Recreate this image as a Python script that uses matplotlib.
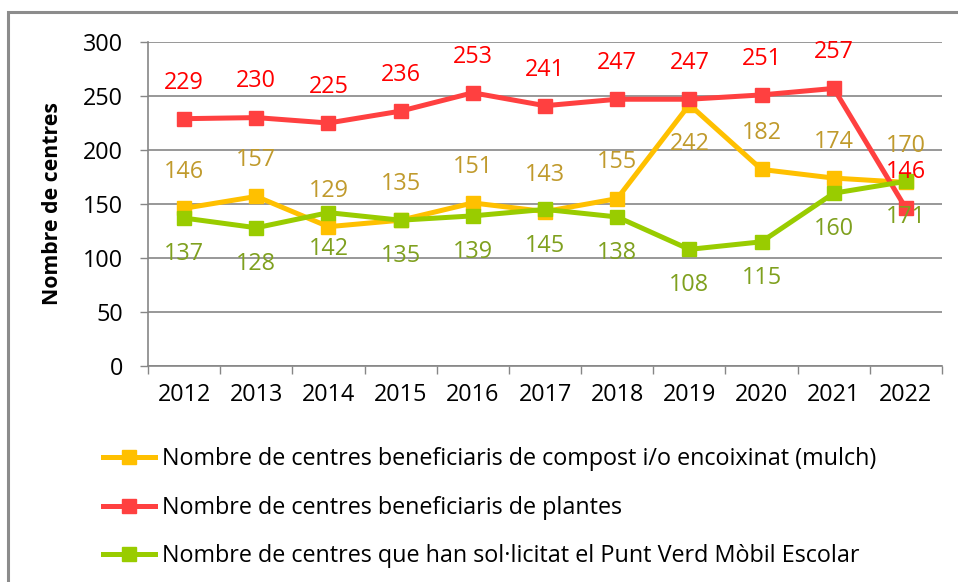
import matplotlib
matplotlib.use("Agg")
import matplotlib.pyplot as plt
from matplotlib.patches import Rectangle
from matplotlib.lines import Line2D

years = ["2012", "2013", "2014", "2015", "2016", "2017", "2018", "2019", "2020", "2021", "2022"]
compost = [146, 157, 129, 135, 151, 143, 155, 242, 182, 174, 170]
plantes = [229, 230, 225, 236, 253, 241, 247, 247, 251, 257, 146]
punt_verd = [137, 128, 142, 135, 139, 145, 138, 108, 115, 160, 171]

names = ["Nombre de centres beneficiaris de compost i/o encoixinat (mulch)",
         "Nombre de centres beneficiaris de plantes",
         "Nombre de centres que han sol\u00b7licitat el Punt Verd M\u00f2bil Escolar"]

plt.rcParams["font.family"] = ["Open Sans", "DejaVu Sans"]
FS = 16.8

fig = plt.figure(figsize=(9.58, 5.82), dpi=100)
ax = fig.add_axes([148 / 958, 1 - 366 / 582, 794 / 958, 324 / 582])

x = list(range(len(years)))
# (values, line colour, label colour, label above(+)/below(-))
series = [
    (compost, "#FFC000", "#C09A2C", [1, 1, 1, 1, 1, 1, 1, -1.1, 1, 1, 1]),
    (plantes, "#FF4040", "#FF0000", [1] * 11),
    (punt_verd, "#99CC00", "#7FA01E", [-1] * 11),
]

handles = []
for vals, col, tcol, side in series:
    ax.plot(x, vals, color=col, lw=3.6, marker="s", ms=10, mec=col, mfc=col, zorder=3)
    handles.append(Line2D([], [], color=col, lw=3.6, marker="s", ms=10, mec=col, mfc=col))
    for xi, v, s in zip(x, vals, side):
        ax.annotate(str(v), (xi, v), xytext=(0, 26 * s), textcoords="offset points",
                    ha="center", va="center", color=tcol, fontsize=FS, zorder=4)

ax.set_xlim(-0.5, len(years) - 0.5)
ax.set_ylim(0, 300)
ax.set_yticks(range(0, 301, 50))
ax.set_xticks(x)
ax.set_xticklabels(years)
ax.set_xticks([i - 0.5 for i in range(len(years) + 1)], minor=True)
ax.tick_params(axis="x", which="major", length=0, pad=12, labelsize=FS)
ax.tick_params(axis="x", which="minor", length=6, width=1, color="#868686", direction="out")
ax.tick_params(axis="y", length=6, width=1, color="#868686", pad=12, labelsize=FS)
ax.grid(axis="y", color="#868686", lw=1.2)
ax.set_axisbelow(True)
for s in ["top", "right"]:
    ax.spines[s].set_visible(False)
for s in ["left", "bottom"]:
    ax.spines[s].set_color("#868686")
    ax.spines[s].set_linewidth(1.2)

ax.set_ylabel("Nombre de centres", fontsize=FS - 1.5, fontweight="bold", labelpad=14)

fig.legend(handles, names, loc="upper left", bbox_to_anchor=(94 / 958, 1 - 438 / 582),
           frameon=False, fontsize=FS, handlelength=2.2, handletextpad=0.3,
           labelspacing=1.05, borderaxespad=0)

# chart frame, cut off on the right and bottom like the source image
fig.patches.append(Rectangle((8 / 958, -0.05), 1.1, 1.05 - 12 / 582, transform=fig.transFigure,
                             fill=False, ec="#8C8C8C", lw=2.2))

fig.savefig("out.png", dpi=100)
